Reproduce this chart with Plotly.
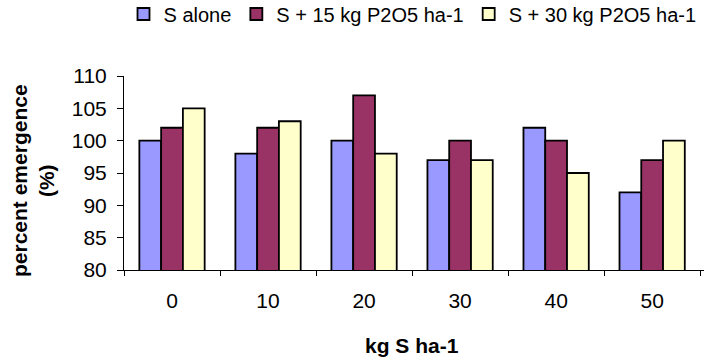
import plotly.graph_objects as go

categories = ["0", "10", "20", "30", "40", "50"]
series_names = ["S alone", "S + 15 kg P2O5 ha-1", "S + 30 kg P2O5 ha-1"]
s_alone = [100, 98, 100, 97, 102, 92]
s_15p = [102, 102, 107, 100, 100, 97]
s_30p = [105, 103, 98, 97, 95, 100]
colors = ["#9999FF", "#993366", "#FFFFCC"]
y_ticks = [80, 85, 90, 95, 100, 105, 110]

FONT = "Arial, Liberation Sans, sans-serif"

fig = go.Figure()
for name, vals, col in zip(series_names, [s_alone, s_15p, s_30p], colors):
    fig.add_trace(go.Bar(
        x=categories, y=vals, name=name,
        marker=dict(color=col, line=dict(color="black", width=1.8)),
    ))

W, H = 704, 363
L, R, T, B = 124, 0, 76, 93
pw, ph = W - L - R, H - T - B

def px_x(p):
    return (p - L) / pw

def px_y(p):
    return (H - B - p) / ph

fig.update_layout(
    width=W, height=H,
    margin=dict(l=L, r=R, t=T, b=B, pad=0, autoexpand=False),
    paper_bgcolor="white", plot_bgcolor="white",
    barmode="group", bargap=0.32, bargroupgap=0,
    font=dict(family=FONT, size=21, color="black"),
    showlegend=True,
    legend=dict(
        orientation="h", x=px_x(123.5), xanchor="left",
        y=px_y(14), yanchor="middle",
        font=dict(family=FONT, size=20, color="black"),
        bgcolor="rgba(0,0,0,0)", borderwidth=0,
        itemwidth=30, tracegroupgap=0,
    ),
    xaxis=dict(
        type="category", range=[-0.5, 5.54],
        showline=True, linecolor="black", linewidth=1,
        ticks="outside", ticklen=5, tickcolor="black", tickwidth=1,
        tickson="boundaries", showgrid=False, zeroline=False,
        ticklabelstandoff=12,
        tickfont=dict(family=FONT, size=21, color="black"),
    ),
    yaxis=dict(
        range=[80, 110], tickvals=y_ticks,
        showline=True, linecolor="black", linewidth=1,
        ticks="outside", ticklen=6, tickcolor="black", tickwidth=1,
        showgrid=False, zeroline=False,
        ticklabelstandoff=6,
        tickfont=dict(family=FONT, size=21, color="black"),
    ),
    annotations=[
        dict(text="<b>percent emergence</b><br><b>(%)</b>", textangle=-90,
             xref="paper", yref="paper", x=px_x(33), y=px_y(181),
             xanchor="center", yanchor="middle", showarrow=False,
             font=dict(family=FONT, size=21, color="black")),
        dict(text="<b>kg S ha-1</b>",
             xref="paper", yref="paper", x=px_x(412), y=px_y(345),
             xanchor="center", yanchor="middle", showarrow=False,
             font=dict(family=FONT, size=21, color="black")),
    ],
)

fig.write_html("out.html")
